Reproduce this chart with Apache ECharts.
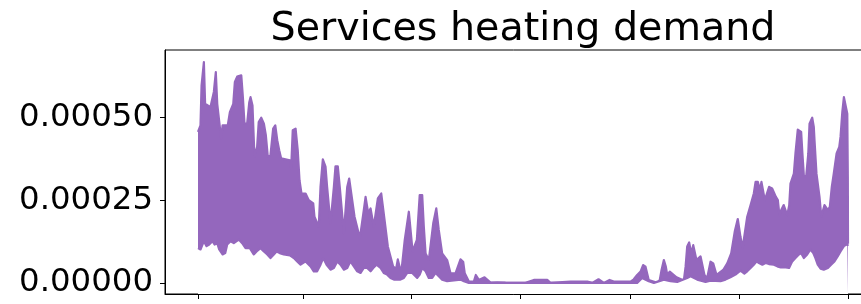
<!DOCTYPE html>
<html>
<head>
<meta charset="utf-8">
<script src="https://cdn.jsdelivr.net/npm/echarts@6/dist/echarts.min.js"></script>
<style>
html, body { margin: 0; padding: 0; background: #fff; }
#main { width: 861px; height: 304px; }
</style>
</head>
<body>
<div id="main"></div>
<script>
// day of year for the upper edge of the daily swing
var upperDay = [0, 1.4, 2.0, 3.3, 4.0, 7.0, 8.9, 10.0, 10.8, 11.9, 13.0, 13.8, 16.7, 17.9, 19.8, 20.7, 22.0, 24.3, 25.2, 26.1,
    27.6, 28.8, 29.5, 30.6, 31.7, 33.2, 34.1, 35.5, 37.0, 38.1, 39.2, 40.7, 42.2, 43.4, 44.5, 45.6, 46.7, 51.6, 52.3, 53.2,
    54.8, 56.0, 57.0, 58.1, 60.4, 62.2, 64.7, 65.4, 67.8, 68.8, 70.1, 71.6, 72.5, 74.4, 76.3, 77.2, 78.5, 79.6, 81.9, 83.8,
    84.9, 86.0, 87.9, 90.9, 93.1, 94.1, 95.0, 95.6, 96.9, 98.7, 101.0, 102.9, 104.3, 106.6, 109.6, 111.3, 112.2, 113.2, 114.3, 116.1,
    118.4, 120.5, 122.9, 124.5, 125.9, 126.8, 127.8, 129.6, 132.1, 133.8, 135.2, 137.1, 139.9, 141.8, 144.6, 147.4, 148.9, 149.8, 152.1, 154.9,
    156.0, 157.7, 160.9, 164.3, 168.0, 172.7, 183.9, 188.6, 196.1, 197.9, 209.2, 218.6, 221.4, 224.9, 227.9, 231.1, 233.5, 242.9, 244.7, 246.6,
    248.5, 250.0, 251.3, 253.1, 257.9, 259.3, 260.3, 261.6, 262.7, 263.5, 264.9, 268.7, 272.8, 273.8, 274.7, 275.8, 277.0, 278.1, 279.2, 279.9,
    282.2, 284.4, 285.9, 287.8, 289.3, 291.2, 292.3, 294.9, 297.2, 299.4, 301.4, 303.1, 304.6, 305.8, 306.8, 308.4, 310.3, 312.1, 313.1, 314.4,
    315.5, 316.4, 317.4, 318.3, 319.2, 320.7, 322.4, 324.5, 325.6, 326.5, 327.5, 328.9, 330.9, 332.0, 332.7, 334.6, 335.5, 336.8, 338.7, 339.4,
    340.2, 341.5, 342.7, 343.4, 344.9, 345.8, 346.2, 347.3, 349.0, 350.0, 351.1, 351.8, 352.5, 353.7, 354.8, 355.9, 357.0, 358.6, 360.1, 360.8,
    361.8, 362.7, 363.8, 364.6, 364.9, 365];
var upperVal = [0.000456, 0.000476, 0.000596, 0.000667, 0.000541, 0.000531, 0.000577, 0.000637, 0.000541, 0.000541, 0.000436, 0.000476, 0.000476, 0.000516, 0.000541, 0.000607, 0.000623, 0.000627, 0.000561, 0.000481,
    0.000481, 0.000546, 0.000561, 0.000536, 0.000381, 0.000411, 0.000486, 0.000499, 0.000481, 0.000446, 0.000381, 0.000386, 0.000466, 0.000476, 0.000431, 0.000401, 0.000376, 0.000370, 0.000345, 0.000461,
    0.000466, 0.000401, 0.000310, 0.000270, 0.000270, 0.000250, 0.000240, 0.000200, 0.000170, 0.000290, 0.000373, 0.000351, 0.000290, 0.000180, 0.000290, 0.000352, 0.000352, 0.000290, 0.000150, 0.000290,
    0.000315, 0.000315, 0.000200, 0.000135, 0.000220, 0.000260, 0.000260, 0.000210, 0.000225, 0.000170, 0.000255, 0.000270, 0.000210, 0.000110, 0.000049, 0.000044, 0.000071, 0.000049, 0.000039, 0.000130,
    0.000215, 0.000095, 0.000130, 0.000265, 0.000265, 0.000170, 0.000089, 0.000069, 0.000180, 0.000225, 0.000160, 0.000089, 0.000069, 0.000029, 0.000029, 0.000071, 0.000064, 0.000029, 0.000004, 0.000004,
    0.000024, 0.000009, 0.000017, 0.000001, 0.000002, 0.000001, 0, 0.000009, 0.000009, 0, 0.000004, 0.000004, 0, 0.000011, 0, 0.000009, 0.000004, 0.000004, 0.000011, 0.000024,
    0.000034, 0.000054, 0.000049, 0.000009, 0, 0.000009, 0.000039, 0.000069, 0.000049, 0.000024, 0.000034, 0.000017, 0.000007, 0.000049, 0.000110, 0.000122, 0.000089, 0.000114, 0.000114, 0.000069,
    0.000080, 0.000024, 0.000014, 0.000064, 0.000059, 0.000024, 0.000019, 0.000039, 0.000059, 0.000089, 0.000155, 0.000193, 0.000140, 0.000105, 0.000100, 0.000200, 0.000235, 0.000270, 0.000305, 0.000305,
    0.000280, 0.000305, 0.000305, 0.000250, 0.000245, 0.000290, 0.000285, 0.000260, 0.000250, 0.000205, 0.000220, 0.000235, 0.000205, 0.000235, 0.000300, 0.000330, 0.000391, 0.000463, 0.000456, 0.000391,
    0.000325, 0.000320, 0.000391, 0.000481, 0.000499, 0.000471, 0.000431, 0.000330, 0.000260, 0.000200, 0.000200, 0.000235, 0.000240, 0.000220, 0.000230, 0.000290, 0.000330, 0.000391, 0.000411, 0.000441,
    0.000516, 0.000561, 0.000561, 0.000511, 0.000320, 0.000118];

// lower edge of the daily swing
var lowerDay = [0, 1.4, 3.3, 4.8, 6.3, 8.1, 9.3, 10.8, 11.9, 13.8, 15.3, 16.4, 18.3, 20.1, 22.9, 24.8, 26.7, 29.1, 31.3, 32.9,
    35.1, 37.0, 38.9, 40.7, 42.6, 44.1, 45.9, 48.2, 51.6, 53.8, 55.7, 57.6, 60.4, 63.2, 65.0, 66.9, 68.8, 70.3, 72.2, 74.4,
    76.3, 78.2, 80.0, 81.9, 83.8, 85.6, 87.5, 89.4, 91.3, 93.1, 95.0, 96.9, 98.4, 100.2, 102.5, 104.3, 106.2, 108.1, 110.0, 113.7,
    115.6, 117.5, 120.3, 123.1, 124.5, 125.9, 127.8, 129.6, 131.5, 133.4, 135.2, 137.1, 139.9, 147.4, 149.3, 152.1, 246.6, 249.4, 253.1, 256.0,
    261.6, 265.3, 269.1, 274.7, 276.6, 280.3, 285.0, 287.8, 293.4, 296.2, 299.0, 301.8, 304.6, 306.8, 308.4, 310.3, 312.1, 313.7, 315.0, 316.9,
    318.7, 320.6, 323.4, 325.3, 327.2, 330.1, 331.9, 333.7, 335.5, 337.4, 338.7, 340.2, 342.1, 343.9, 345.5, 346.7, 348.0, 349.6, 351.4, 353.7,
    355.5, 357.4, 359.2, 360.8, 362.7, 364.6, 365];
var lowerVal = [0.000105, 0.000101, 0.000126, 0.000111, 0.000116, 0.000126, 0.000116, 0.000120, 0.000101, 0.000086, 0.000090, 0.000116, 0.000126, 0.000120, 0.000131, 0.000120, 0.000105, 0.000105, 0.000086, 0.000095,
    0.000105, 0.000095, 0.000086, 0.000075, 0.000086, 0.000095, 0.000090, 0.000086, 0.000083, 0.000075, 0.000065, 0.000055, 0.000065, 0.000050, 0.000035, 0.000035, 0.000055, 0.000075, 0.000055, 0.000040,
    0.000045, 0.000065, 0.000055, 0.000040, 0.000045, 0.000065, 0.000050, 0.000035, 0.000030, 0.000045, 0.000045, 0.000035, 0.000045, 0.000055, 0.000045, 0.000030, 0.000025, 0.000015, 0.000010, 0.000010,
    0.000015, 0.000030, 0.000030, 0.000015, 0.000025, 0.000045, 0.000035, 0.000015, 0.000015, 0.000030, 0.000020, 0.000010, 0.000005, 0.000010, 0.000005, 0, 0, 0.000015, 0.000005, 0,
    0.000010, 0.000005, 0.000003, 0.000015, 0.000020, 0.000010, 0.000003, 0.000007, 0.000005, 0.000010, 0.000017, 0.000025, 0.000037, 0.000028, 0.000035, 0.000045, 0.000055, 0.000065, 0.000060, 0.000055,
    0.000060, 0.000057, 0.000055, 0.000050, 0.000047, 0.000047, 0.000045, 0.000065, 0.000075, 0.000086, 0.000090, 0.000075, 0.000086, 0.000101, 0.000090, 0.000075, 0.000055, 0.000043, 0.000040, 0.000045,
    0.000055, 0.000065, 0.000080, 0.000095, 0.000111, 0.000117, 0.000112];

// first of Jan, Mar, May, Jul, Sep, Nov, Jan
var xTicks = [0, 59, 120, 181, 243, 304, 365];
var yTicks = [0, 0.00025, 0.0005];

var purple = '#9467bd';

function pairs(xs, ys) {
    return xs.map(function (x, i) { return [x, ys[i]]; });
}

var chart = echarts.init(document.getElementById('main'), null, {renderer: 'canvas'});
chart.setOption({
    animation: false,
    backgroundColor: '#fff',
    title: {
        text: 'Services heating demand',
        left: 518,
        top: 5,
        textAlign: 'center',
        textStyle: {
            fontFamily: 'DejaVu Sans',
            fontSize: 39.6,
            fontWeight: 'normal',
            color: '#000'
        }
    },
    grid: {
        left: 165,
        top: 50,
        width: 716,
        height: 244,
        outerBoundsMode: 'none',
        containLabel: false,
        show: true,
        borderColor: '#000',
        borderWidth: 1,
        backgroundColor: 'transparent'
    },
    xAxis: {
        type: 'value',
        min: -18.531,
        max: 383.53,
        z: 10,
        axisLine: {show: true, onZero: false, lineStyle: {color: '#000', width: 1}},
        axisTick: {show: true, length: 5, customValues: xTicks, lineStyle: {color: '#000', width: 1}},
        axisLabel: {show: false},
        splitLine: {show: false}
    },
    yAxis: {
        type: 'value',
        min: -0.0000335,
        max: 0.0007035,
        z: 10,
        axisLine: {show: true, onZero: false, lineStyle: {color: '#000', width: 1}},
        axisTick: {show: true, length: 5, customValues: yTicks, lineStyle: {color: '#000', width: 1}},
        axisLabel: {
            customValues: yTicks,
            margin: 12,
            fontFamily: 'DejaVu Sans',
            fontSize: 32.4,
            color: '#000',
            formatter: function (v) { return v.toFixed(5); }
        },
        splitLine: {show: false}
    },
    series: [
        {
            name: 'upper',
            type: 'line',
            data: pairs(upperDay, upperVal),
            symbol: 'none',
            z: 2,
            lineStyle: {color: purple, width: 2.2, join: 'round'},
            areaStyle: {color: purple, opacity: 1, origin: 'start'}
        },
        {
            name: 'lower',
            type: 'line',
            data: pairs(lowerDay, lowerVal),
            symbol: 'none',
            z: 3,
            lineStyle: {color: purple, width: 2.2, join: 'round'},
            areaStyle: {color: '#fff', opacity: 1, origin: 'start'}
        }
    ]
});
</script>
</body>
</html>
